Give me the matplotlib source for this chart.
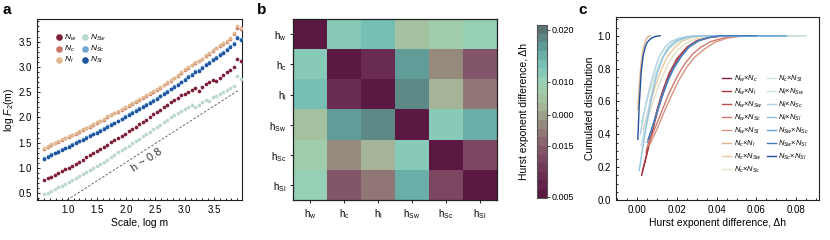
import numpy as np
import matplotlib
matplotlib.use("Agg")
import matplotlib.pyplot as plt
from matplotlib.colors import LinearSegmentedColormap
from matplotlib.ticker import MultipleLocator, FormatStrFormatter

plt.rcParams['font.family'] = ['Liberation Sans', 'DejaVu Sans']
plt.rcParams['mathtext.fontset'] = 'custom'
plt.rcParams['mathtext.rm'] = 'Liberation Sans'
plt.rcParams['mathtext.it'] = 'Liberation Sans:italic'
plt.rcParams['mathtext.bf'] = 'Liberation Sans:bold'

# ---------------- Panel a data ----------------
log_m = [0.60, 0.66, 0.72, 0.78, 0.84, 0.90, 0.96, 1.02, 1.08, 1.14,
         1.20, 1.26, 1.32, 1.38, 1.44, 1.50, 1.56, 1.62, 1.68, 1.74,
         1.80, 1.86, 1.92, 1.98, 2.04, 2.10, 2.16, 2.22, 2.28, 2.34,
         2.40, 2.46, 2.52, 2.58, 2.64, 2.70, 2.76, 2.82, 2.88, 2.94,
         3.00, 3.06, 3.12, 3.18, 3.24, 3.30, 3.36, 3.42, 3.48, 3.54,
         3.60, 3.66, 3.72, 3.78, 3.84, 3.90, 3.96]

F_w = [0.76, 0.80, 0.83, 0.87, 0.90, 0.94, 0.98, 1.01,
       1.05, 1.09, 1.13, 1.17, 1.21, 1.25, 1.29, 1.33,
       1.37, 1.42, 1.46, 1.51, 1.55, 1.60, 1.64, 1.68,
       1.73, 1.78, 1.82, 1.87, 1.92, 1.96, 2.01, 2.06,
       2.11, 2.15, 2.20, 2.25, 2.30, 2.34, 2.38, 2.44,
       2.47, 2.51, 2.55, 2.58, 2.53, 2.60, 2.66, 2.70,
       2.75, 2.72, 2.78, 2.84, 2.90, 2.94, 2.99, 3.15, 3.12]
F_c = [1.38, 1.42, 1.45, 1.49, 1.52, 1.55, 1.59, 1.62,
       1.65, 1.68, 1.72, 1.75, 1.79, 1.82, 1.86, 1.89,
       1.93, 1.96, 2.00, 2.04, 2.08, 2.11, 2.15, 2.19,
       2.23, 2.27, 2.30, 2.34, 2.38, 2.42, 2.46, 2.50,
       2.55, 2.59, 2.64, 2.68, 2.73, 2.78, 2.82, 2.87,
       2.93, 2.97, 3.03, 3.07, 3.11, 3.15, 3.21, 3.26,
       3.31, 3.37, 3.41, 3.46, 3.50, 3.56, 3.64, 3.77, 3.74]
F_l = [1.40, 1.43, 1.47, 1.50, 1.53, 1.57, 1.60, 1.63,
       1.66, 1.70, 1.73, 1.77, 1.80, 1.84, 1.87, 1.91,
       1.94, 1.98, 2.02, 2.05, 2.09, 2.13, 2.17, 2.21,
       2.24, 2.28, 2.32, 2.36, 2.40, 2.44, 2.48, 2.52,
       2.56, 2.61, 2.65, 2.70, 2.75, 2.79, 2.84, 2.89,
       2.95, 3.00, 3.04, 3.10, 3.12, 3.16, 3.24, 3.28,
       3.34, 3.38, 3.44, 3.48, 3.52, 3.58, 3.66, 3.80, 3.76]
F_Sw = [0.48, 0.51, 0.55, 0.58, 0.62, 0.65, 0.69, 0.72,
        0.76, 0.80, 0.84, 0.88, 0.92, 0.96, 1.00, 1.04,
        1.08, 1.13, 1.17, 1.22, 1.26, 1.31, 1.35, 1.40,
        1.44, 1.49, 1.54, 1.58, 1.63, 1.68, 1.72, 1.77,
        1.82, 1.86, 1.91, 1.96, 2.00, 2.04, 2.08, 2.13,
        2.17, 2.21, 2.25, 2.20, 2.24, 2.30, 2.35, 2.33,
        2.40, 2.42, 2.46, 2.50, 2.54, 2.58, 2.62, 2.82, 2.76]
F_Sc = [1.20, 1.23, 1.27, 1.30, 1.34, 1.37, 1.40, 1.44,
        1.47, 1.51, 1.54, 1.58, 1.61, 1.65, 1.68, 1.72,
        1.75, 1.79, 1.83, 1.87, 1.90, 1.94, 1.98, 2.02,
        2.06, 2.10, 2.14, 2.18, 2.22, 2.27, 2.31, 2.35,
        2.39, 2.43, 2.48, 2.53, 2.57, 2.62, 2.67, 2.71,
        2.77, 2.81, 2.86, 2.91, 2.94, 2.99, 3.05, 3.10,
        3.15, 3.20, 3.25, 3.30, 3.35, 3.42, 3.48, 3.60, 3.56]
F_Sl = [1.18, 1.22, 1.25, 1.29, 1.32, 1.36, 1.39, 1.42,
        1.46, 1.49, 1.53, 1.56, 1.60, 1.63, 1.67, 1.70,
        1.74, 1.78, 1.81, 1.85, 1.89, 1.93, 1.97, 2.01,
        2.05, 2.09, 2.13, 2.17, 2.21, 2.25, 2.29, 2.33,
        2.37, 2.42, 2.46, 2.51, 2.56, 2.60, 2.65, 2.70,
        2.75, 2.80, 2.84, 2.90, 2.92, 2.97, 3.04, 3.08,
        3.14, 3.18, 3.24, 3.28, 3.33, 3.40, 3.46, 3.58, 3.54]

series_names = ['w', 'c', 'l', 'Sw', 'Sc', 'Sl']
series_vals = [F_w, F_c, F_l, F_Sw, F_Sc, F_Sl]
series_colors = ['#7d1f36', '#c8766a', '#e2b88e', '#bcd9cd', '#70a9d6', '#1f55a0']

guide_x = [0.99, 3.91]
guide_y = [0.37, 2.53]

# ---------------- Panel b data ----------------
h_labels = [r'h$_\mathrm{w}$', r'h$_\mathrm{c}$', r'h$_\mathrm{l}$',
            r'h$_\mathrm{Sw}$', r'h$_\mathrm{Sc}$', r'h$_\mathrm{Sl}$']
dh_matrix = [
    [0.0000, 0.0147, 0.0160, 0.0116, 0.0132, 0.0139],
    [0.0147, 0.0000, 0.0025, 0.0181, 0.0094, 0.0062],
    [0.0160, 0.0025, 0.0000, 0.0197, 0.0109, 0.0084],
    [0.0116, 0.0181, 0.0197, 0.0000, 0.0157, 0.0172],
    [0.0132, 0.0094, 0.0109, 0.0157, 0.0000, 0.0046],
    [0.0139, 0.0062, 0.0084, 0.0172, 0.0046, 0.0000],
]
cbar_tick_vals = [0.0204, 0.0141, 0.0101, 0.0063, 0.0001]
cbar_tick_labels = ['0.020', '0.010', '0.000', '0.015', '0.005']

# ---------------- Panel c data ----------------
pair_colors = ['#8e2438', '#a8343f', '#bd4d4e', '#cf7a6e', '#d9927f',
               '#e0b48a', '#e9c79d', '#e3e0c3', '#d4e6d8', '#c4e2e4',
               '#acd2e4', '#93c2e0', '#6aa4d2', '#437cbd', '#1f4f9c']
cdf_x = [
    [0.0022, 0.004, 0.006, 0.008, 0.010, 0.013, 0.016, 0.020, 0.025, 0.030, 0.036, 0.042, 0.055],
    [0.0025, 0.0045, 0.0065, 0.0085, 0.0105, 0.0135, 0.0165, 0.0205, 0.026, 0.031, 0.037, 0.044, 0.060],
    [0.0045, 0.006, 0.008, 0.010, 0.013, 0.016, 0.020, 0.025, 0.030, 0.036, 0.043, 0.065],
    [0.005, 0.007, 0.010, 0.013, 0.016, 0.020, 0.024, 0.028, 0.032, 0.037, 0.043, 0.050, 0.060, 0.075],
    [0.006, 0.008, 0.011, 0.014, 0.017, 0.021, 0.025, 0.029, 0.034, 0.039, 0.045, 0.052, 0.062, 0.080],
    [0.0003, 0.001, 0.002, 0.003, 0.004, 0.005, 0.0065],
    [0.003, 0.005, 0.007, 0.009, 0.012, 0.015, 0.019, 0.023, 0.028, 0.034, 0.050],
    [0.0045, 0.006, 0.008, 0.010, 0.013, 0.016, 0.020, 0.024, 0.029, 0.035, 0.042, 0.060],
    [0.002, 0.004, 0.006, 0.008, 0.010, 0.013, 0.016, 0.020, 0.025, 0.031, 0.038, 0.085],
    [0.002, 0.004, 0.006, 0.008, 0.010, 0.012, 0.015, 0.018, 0.022, 0.027, 0.033, 0.085],
    [0.0015, 0.003, 0.005, 0.007, 0.009, 0.011, 0.014, 0.017, 0.021, 0.026, 0.032, 0.075],
    [0.001, 0.002, 0.004, 0.006, 0.008, 0.010, 0.013, 0.016, 0.020, 0.025, 0.031, 0.070],
    [0.005, 0.007, 0.009, 0.012, 0.015, 0.018, 0.022, 0.026, 0.031, 0.036, 0.042, 0.075],
    [0.0055, 0.0075, 0.0095, 0.0125, 0.0155, 0.0185, 0.0225, 0.0265, 0.031, 0.036, 0.042, 0.060],
    [0.0003, 0.001, 0.002, 0.003, 0.004, 0.005, 0.007, 0.009, 0.0115],
]
cdf_y = [
    [0.15, 0.24, 0.35, 0.45, 0.55, 0.67, 0.77, 0.86, 0.93, 0.97, 0.99, 1.0, 1.0],
    [0.17, 0.26, 0.36, 0.46, 0.55, 0.67, 0.77, 0.86, 0.93, 0.97, 0.99, 1.0, 1.0],
    [0.29, 0.36, 0.45, 0.54, 0.66, 0.76, 0.86, 0.93, 0.97, 0.99, 1.0, 1.0],
    [0.32, 0.38, 0.47, 0.56, 0.65, 0.75, 0.83, 0.89, 0.93, 0.965, 0.985, 0.997, 1.0, 1.0],
    [0.33, 0.38, 0.46, 0.55, 0.63, 0.73, 0.81, 0.87, 0.92, 0.96, 0.985, 0.997, 1.0, 1.0],
    [0.55, 0.70, 0.84, 0.92, 0.965, 0.99, 1.0],
    [0.43, 0.52, 0.61, 0.69, 0.79, 0.87, 0.93, 0.97, 0.99, 1.0, 1.0],
    [0.45, 0.52, 0.60, 0.67, 0.76, 0.84, 0.91, 0.95, 0.98, 0.995, 1.0, 1.0],
    [0.47, 0.56, 0.65, 0.73, 0.80, 0.87, 0.92, 0.96, 0.985, 0.997, 1.0, 1.0],
    [0.33, 0.46, 0.58, 0.69, 0.78, 0.85, 0.92, 0.96, 0.985, 0.997, 1.0, 1.0],
    [0.40, 0.50, 0.62, 0.72, 0.80, 0.87, 0.93, 0.965, 0.985, 0.997, 1.0, 1.0],
    [0.18, 0.26, 0.41, 0.55, 0.67, 0.77, 0.87, 0.93, 0.97, 0.99, 1.0, 1.0],
    [0.35, 0.42, 0.50, 0.61, 0.71, 0.79, 0.87, 0.93, 0.97, 0.99, 1.0, 1.0],
    [0.37, 0.44, 0.52, 0.63, 0.73, 0.81, 0.88, 0.94, 0.97, 0.99, 1.0, 1.0],
    [0.37, 0.58, 0.78, 0.88, 0.93, 0.96, 0.985, 0.995, 1.0],
]

# ---------------- Figure ----------------
W, H = 830, 240
fig = plt.figure(figsize=(W / 100, H / 100), dpi=100)

def box(l, t, r, b):
    return [l / W, 1 - b / H, (r - l) / W, (b - t) / H]

TICK = 7
LAB = 7.5
spine_c = '#222222'

# ---- Panel a ----
ax = fig.add_axes(box(36.7, 19.3, 242, 200))
for name, vals, col in zip(series_names, series_vals, series_colors):
    ax.scatter(log_m, vals, s=7, color=col, linewidths=0, label=r'$N_{%s}$' % name, zorder=3)
ax.plot(guide_x, guide_y, ls=(0, (3, 2)), lw=0.6, color='#555555', zorder=2)
ax.text(2.35, 1.15, 'h ~ 0.8', rotation=33, ha='center', va='center', fontsize=8, color='#333333')
ax.set_xlim(0.47, 3.98)
ax.set_ylim(0.37, 3.94)
ax.set_xticks([1.0, 1.5, 2.0, 2.5, 3.0, 3.5])
ax.set_yticks([0.5, 1.0, 1.5, 2.0, 2.5, 3.0, 3.5])
ax.xaxis.set_minor_locator(MultipleLocator(0.1))
ax.yaxis.set_minor_locator(MultipleLocator(0.1))
ax.xaxis.set_major_formatter(FormatStrFormatter('%.1f'))
ax.yaxis.set_major_formatter(FormatStrFormatter('%.1f'))
ax.tick_params(which='both', direction='in', labelsize=TICK, width=0.6)
ax.tick_params(which='major', length=2.5)
ax.tick_params(which='minor', length=1.5)
ax.set_xlabel('Scale, log m', fontsize=LAB, labelpad=2)
ax.set_ylabel(r'log $F_2$(m)', fontsize=LAB, labelpad=2)
for s in ax.spines.values():
    s.set_linewidth(0.8); s.set_color(spine_c)
leg = ax.legend(ncol=2, loc='upper left', bbox_to_anchor=(0.07, 0.95), frameon=False,
                fontsize=6, handletextpad=0.1, columnspacing=0.4, labelspacing=0.12,
                markerscale=1.8, borderpad=0, handlelength=1.0)

# ---- Panel b ----
anchors = [(0.00, '#5a1842'), (0.10, '#6a2c51'), (0.20, '#7b4460'), (0.30, '#89606f'),
           (0.40, '#948278'), (0.46, '#9b9a88'), (0.53, '#a6b597'), (0.61, '#a3cba7'),
           (0.70, '#93d2b9'), (0.80, '#73bdb4'), (0.90, '#5f9b97'), (1.00, '#5a7373')]
cmap = LinearSegmentedColormap.from_list('hurst', anchors).resampled(20)
axb = fig.add_axes(box(293.3, 19.3, 496.7, 200))
im = axb.imshow(np.array(dh_matrix), cmap=cmap, vmin=0.0, vmax=0.021, aspect='auto',
                interpolation='nearest')
axb.set_xticks(range(6))
axb.set_yticks(range(6))
axb.set_xticklabels(h_labels, fontsize=TICK)
axb.set_yticklabels(h_labels, fontsize=TICK)
axb.tick_params(length=2, width=0.6, pad=3)
for s in axb.spines.values():
    s.set_linewidth(0.9); s.set_color(spine_c)

cax = fig.add_axes(box(537, 25, 547, 197.7))
cb = fig.colorbar(im, cax=cax)
cb.set_ticks(cbar_tick_vals)
cb.set_ticklabels(cbar_tick_labels)
cb.ax.tick_params(labelsize=6.5, length=2, width=0.5, pad=1.5)
cb.outline.set_edgecolor('#555555')
cb.outline.set_linewidth(0.8)
cb.ax.yaxis.set_label_position('left')
cb.set_label('Hurst exponent difference, Δh', fontsize=LAB, labelpad=6)

# ---- Panel c ----
axc = fig.add_axes(box(616, 16.7, 819.3, 200))
pair_labels = []
for i in range(6):
    for j in range(i + 1, 6):
        pair_labels.append(r'$N_{%s}$×$N_{%s}$' % (series_names[i], series_names[j]))
for xs, ys, col, lab in zip(cdf_x, cdf_y, pair_colors, pair_labels):
    axc.plot(xs, ys, color=col, lw=1.0, label=lab)
axc.set_xlim(-0.0107, 0.0917)
axc.set_ylim(0, 1.116)
axc.xaxis.set_major_locator(MultipleLocator(0.02))
axc.xaxis.set_minor_locator(MultipleLocator(0.005))
axc.yaxis.set_major_locator(MultipleLocator(0.2))
axc.yaxis.set_minor_locator(MultipleLocator(0.05))
axc.xaxis.set_major_formatter(FormatStrFormatter('%.2f'))
axc.yaxis.set_major_formatter(FormatStrFormatter('%.1f'))
axc.tick_params(which='both', direction='in', labelsize=TICK, width=0.6)
axc.tick_params(which='major', length=2.5)
axc.tick_params(which='minor', length=1.5)
axc.set_xlabel('Hurst exponent difference, Δh', fontsize=LAB, labelpad=2)
axc.set_ylabel('Cumulated distribution', fontsize=LAB, labelpad=2)
for s in axc.spines.values():
    s.set_linewidth(0.8); s.set_color(spine_c)
axc.legend(ncol=2, loc='upper left', bbox_to_anchor=(0.505, 0.71), frameon=False,
           fontsize=5.4, handlelength=1.2, handletextpad=0.3, columnspacing=0.6,
           labelspacing=0.38, borderpad=0)

# panel letters
fig.text(2 / W, 1 - 3 / H, 'a', fontsize=11, fontweight='bold', va='top', ha='left')
fig.text(257 / W, 1 - 3 / H, 'b', fontsize=11, fontweight='bold', va='top', ha='left')
fig.text(578 / W, 1 - 3 / H, 'c', fontsize=11, fontweight='bold', va='top', ha='left')

fig.savefig('out.png', dpi=100)
